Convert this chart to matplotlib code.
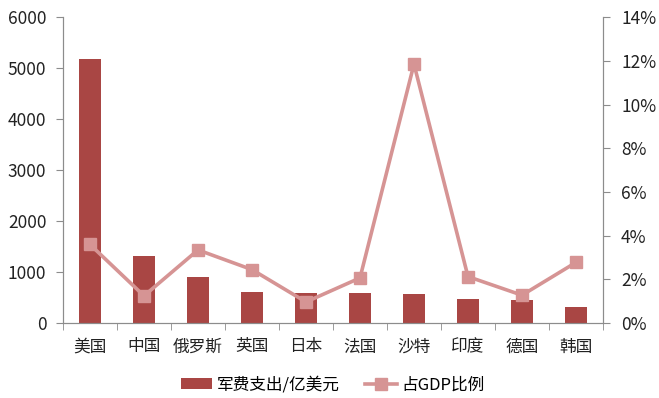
import numpy as np
import matplotlib
matplotlib.use('Agg')
import matplotlib.pyplot as plt
from matplotlib.ticker import FuncFormatter, FixedLocator

plt.rcParams['font.family'] = ['Noto Sans CJK SC', 'DejaVu Sans']

# 数据
countries = ['美国', '中国', '俄罗斯', '英国', '日本', '法国', '沙特', '印度', '德国', '韩国']
spending = [5180, 1320, 900, 608, 585, 585, 565, 465, 460, 315]   # 亿美元
gdp_share = [3.6, 1.25, 3.35, 2.45, 0.97, 2.07, 11.85, 2.13, 1.28, 2.78]  # %

bar_color = '#A94644'
line_color = '#D69494'
axis_color = '#8C8C8C'

fig = plt.figure(figsize=(6.59, 3.98), dpi=100)
ax = fig.add_axes([0.0956, 0.188, 0.8194, 0.769])
ax2 = ax.twinx()

x = np.arange(len(countries))
ax.bar(x, spending, width=0.4, color=bar_color, label='军费支出/亿美元', zorder=2)
ax2.plot(x, gdp_share, color=line_color, lw=2.6, marker='s', markersize=9,
         label='占GDP比例', zorder=3)

ax.set_xlim(-0.5, len(countries) - 0.5)
ax.set_ylim(0, 6000)
ax.set_yticks(range(0, 6001, 1000))
ax2.set_ylim(0, 14)
ax2.set_yticks(range(0, 15, 2))
ax2.yaxis.set_major_formatter(FuncFormatter(lambda v, p: '%d%%' % v))

ax.set_xticks(x)
ax.set_xticklabels(countries, fontsize=12)
ax.xaxis.set_minor_locator(FixedLocator(np.arange(-0.5, len(countries), 1)))
ax.tick_params(axis='x', which='major', length=0, pad=11, colors='#222222')
ax.tick_params(axis='x', which='minor', length=5, color=axis_color)
ax.tick_params(axis='y', length=5, pad=7, color=axis_color, labelsize=12.5, labelcolor='#222222')
ax2.tick_params(axis='y', length=5, pad=8, color=axis_color, labelsize=12.5, labelcolor='#222222')

for a in (ax, ax2):
    a.spines['top'].set_visible(False)
    for s in ('left', 'right', 'bottom'):
        a.spines[s].set_color(axis_color)
ax2.set_zorder(ax.get_zorder() + 1)
ax2.patch.set_visible(False)

h1, l1 = ax.get_legend_handles_labels()
h2, l2 = ax2.get_legend_handles_labels()
fig.legend(h1 + h2, l1 + l2, loc='center', bbox_to_anchor=(0.505, 0.033), ncol=2,
           frameon=False, fontsize=12, handlelength=1.9, handletextpad=0.3,
           columnspacing=1.5)

fig.savefig('out.png', dpi=100)
